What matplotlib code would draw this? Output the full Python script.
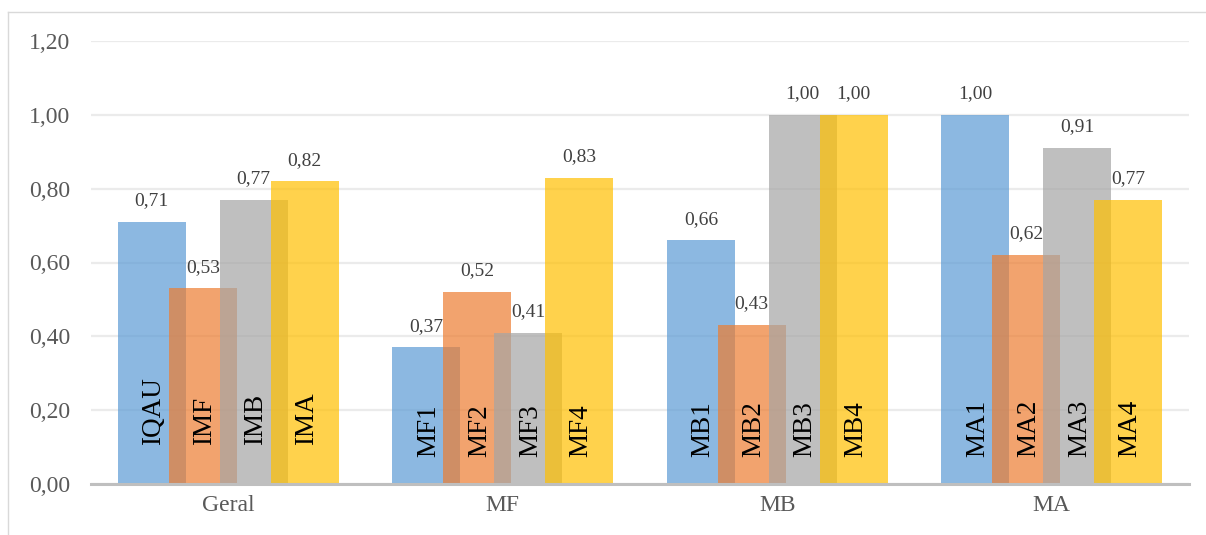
import matplotlib.pyplot as plt
from matplotlib.lines import Line2D
import numpy as np

groups = ["Geral", "MF", "MB", "MA"]
series_colors = ["#5B9BD5", "#ED7D31", "#A5A5A5", "#FFC000"]
bar_names = [
    ["IQAU", "IMF", "IMB", "IMA"],
    ["MF1", "MF2", "MF3", "MF4"],
    ["MB1", "MB2", "MB3", "MB4"],
    ["MA1", "MA2", "MA3", "MA4"],
]
# one list per series (position in group), values for Geral, MF, MB, MA
serie1 = [0.71, 0.37, 0.66, 1.00]
serie2 = [0.53, 0.52, 0.43, 0.62]
serie3 = [0.77, 0.41, 1.00, 0.91]
serie4 = [0.82, 0.83, 1.00, 0.77]
yticks = [0.0, 0.2, 0.4, 0.6, 0.8, 1.0, 1.2]

SERIF = ["Liberation Serif", "DejaVu Serif"]
TICK_COL = "#595959"

fig = plt.figure(figsize=(12.06, 5.35), dpi=100)
W, H = 1206, 535
ax = fig.add_axes([91 / W, 51 / H, (1189 - 91) / W, (494 - 51) / H])

width = 0.247
step = 0.1855
x = np.arange(len(groups))
all_series = [serie1, serie2, serie3, serie4]
offsets = (np.arange(4) - 1.5) * step
inner_pad = [28, 19.5, 19.5, 19.5]

for i, vals in enumerate(all_series):
    xs = x + offsets[i]
    ax.bar(xs, vals, width=width, color=series_colors[i], alpha=0.7,
           linewidth=0, zorder=2 + i * 0.1)
    for g, (xx, v) in enumerate(zip(xs, vals)):
        ax.annotate(f"{v:.2f}".replace(".", ","), xy=(xx, v),
                    xytext=(0, 12), textcoords="offset points",
                    ha="center", va="baseline", fontsize=14,
                    color="#404040", family=SERIF, zorder=5)
        ax.annotate(bar_names[g][i], xy=(xx, 0),
                    xytext=(1.5, inner_pad[g]), textcoords="offset points",
                    ha="center", va="bottom", rotation=90, fontsize=19.5,
                    color="black", family=SERIF, zorder=5)

ax.set_xlim(-0.5, len(groups) - 0.5)
ax.set_ylim(0, 1.2)
ax.set_yticks(yticks)
ax.set_yticklabels([f"{t:.2f}".replace(".", ",") for t in yticks])
ax.set_xticks(x)
ax.set_xticklabels(groups)
for lab in ax.get_xticklabels() + ax.get_yticklabels():
    lab.set_family(SERIF)
    lab.set_fontsize(17)
    lab.set_color(TICK_COL)
ax.tick_params(axis="y", length=0, pad=15)
ax.tick_params(axis="x", length=0, pad=8)

ax.grid(axis="y", color="#EBEBEB", linewidth=1.6, zorder=0)
ax.set_axisbelow(True)
for side in ["left", "right", "top"]:
    ax.spines[side].set_visible(False)
ax.spines["bottom"].set_color("#BFBFBF")
ax.spines["bottom"].set_linewidth(2.2)
ax.spines["bottom"].set_zorder(6)

# chart border (top and left edges visible)
fig.add_artist(Line2D([8 / W, 1.0], [1 - 12 / H, 1 - 12 / H],
                      transform=fig.transFigure, color="#D9D9D9", lw=1))
fig.add_artist(Line2D([8 / W, 8 / W], [0, 1 - 12 / H],
                      transform=fig.transFigure, color="#D9D9D9", lw=1))

fig.savefig("out.png", dpi=100)
